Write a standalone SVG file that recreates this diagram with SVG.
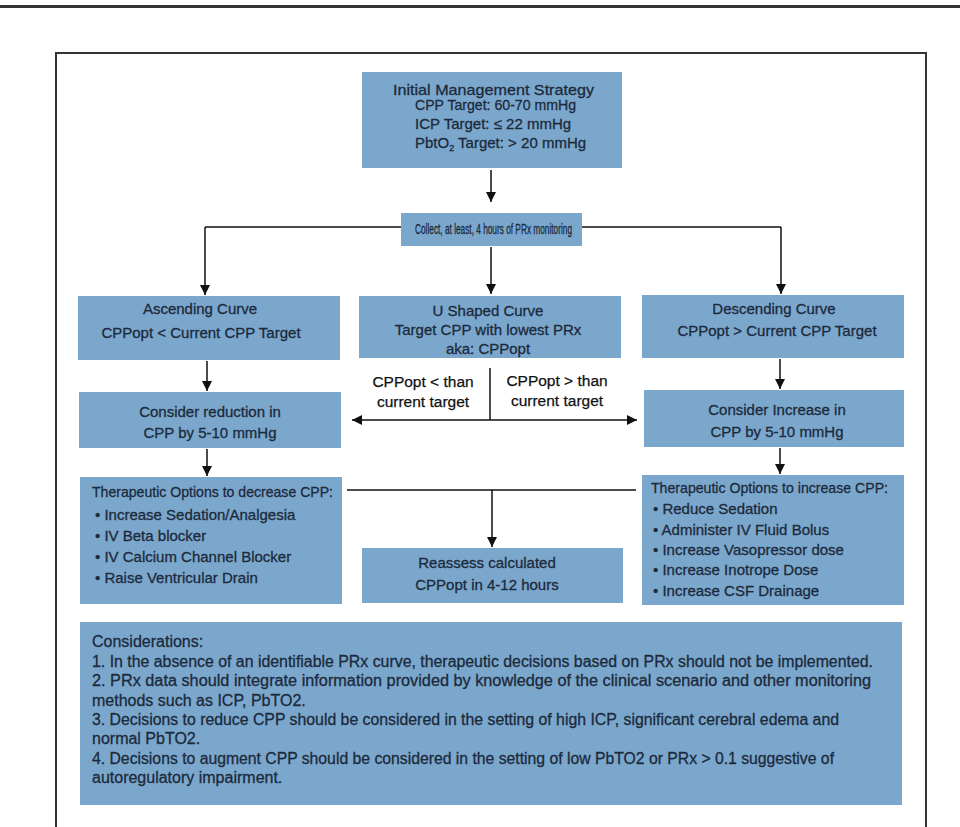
<svg xmlns="http://www.w3.org/2000/svg" width="960" height="827" viewBox="0 0 960 827">
<style>
.box{fill:#7ba7cd;}
.t{font-family:"Liberation Sans",Arial,sans-serif;fill:#1c2a3b;stroke:#1c2a3b;stroke-width:0.3;font-size:15px;}
.c{text-anchor:middle;}
.k{font-size:16px;}
.lbl{font-family:"Liberation Sans",Arial,sans-serif;fill:#111;stroke:#111;stroke-width:0.25;font-size:15.5px;text-anchor:middle;}
.ln{stroke:#111;stroke-width:1.5;fill:none;}
.ar{marker-end:url(#ah);}
</style>
<defs>
<marker id="ah" markerUnits="userSpaceOnUse" markerWidth="10" markerHeight="10" refX="10" refY="5" orient="auto-start-reverse" viewBox="0 0 10 10">
<path d="M0,0 L10,5 L0,10 z" fill="#111"/>
</marker>
</defs>
<rect width="960" height="827" fill="#fff"/>
<rect x="0" y="5" width="960" height="3" fill="#333"/>
<path d="M56,827 V53 H926 V827" fill="none" stroke="#333" stroke-width="2"/>

<g id="connectors">
<path class="ln ar" d="M491,170 V202"/>
<path class="ln" d="M205,227 H401 M582,227 H781"/>
<path class="ln ar" d="M205,227 V295"/>
<path class="ln ar" d="M491,247 V294"/>
<path class="ln ar" d="M781,227 V294"/>
<path class="ln ar" d="M207,361 V391"/>
<path class="ln ar" d="M780,359 V389"/>
<path class="ln" d="M490,368 V420"/>
<path class="ln" d="M352,420 H637" marker-start="url(#ah)" marker-end="url(#ah)"/>
<path class="ln ar" d="M207,449 V476"/>
<path class="ln ar" d="M780,448 V474"/>
<path class="ln" d="M347,490 H636"/>
<path class="ln ar" d="M492,490 V547"/>
</g>

<g id="initial">
<rect class="box" x="362" y="72" width="260" height="96"/>
<text class="t" x="393" y="94.5" font-size="16.5" textLength="201" lengthAdjust="spacingAndGlyphs">Initial Management Strategy</text>
<text class="t" x="415" y="110" font-size="14.5" textLength="161" lengthAdjust="spacingAndGlyphs">CPP Target: 60-70 mmHg</text>
<text class="t" x="415" y="129" font-size="14.5">ICP Target: ≤ 22 mmHg</text>
<text class="t" x="415" y="148" font-size="14.5">PbtO<tspan font-size="9" dy="3">2</tspan><tspan dy="-3"> Target: &gt; 20 mmHg</tspan></text>
</g>

<g id="collect">
<rect class="box" x="401" y="213" width="181" height="33"/>
<text class="t" x="415" y="234" font-size="15" textLength="157" lengthAdjust="spacingAndGlyphs">Collect, at least, 4 hours of PRx monitoring</text>
</g>

<g id="ascending">
<rect class="box" x="78" y="296" width="262" height="64"/>
<text class="t c" x="200" y="313.5" font-size="15.5">Ascending Curve</text>
<text class="t c" x="201" y="337.5" font-size="14.5">CPPopt &lt; Current CPP Target</text>
</g>

<g id="ushaped">
<rect class="box" x="359" y="296" width="262" height="62"/>
<text class="t c" x="488" y="315.5" font-size="15.5">U Shaped Curve</text>
<text class="t c" x="488" y="334.5" font-size="15.5">Target CPP with lowest PRx</text>
<text class="t c" x="488" y="353.5" font-size="14">aka: CPPopt</text>
</g>

<g id="descending">
<rect class="box" x="642" y="295" width="262" height="63"/>
<text class="t c" x="774" y="313.5" font-size="15.5">Descending Curve</text>
<text class="t c" x="777" y="335.5" font-size="14.5">CPPopt &gt; Current CPP Target</text>
</g>

<g id="labels">
<text class="lbl" x="423" y="387">CPPopt &lt; than</text>
<text class="lbl" x="423" y="407">current target</text>
<text class="lbl" x="557" y="386">CPPopt &gt; than</text>
<text class="lbl" x="557" y="406">current target</text>
</g>

<g id="reduce">
<rect class="box" x="79" y="392" width="262" height="56"/>
<text class="t c" x="210" y="417">Consider reduction in</text>
<text class="t c" x="210" y="438" font-size="14.5">CPP by 5-10 mmHg</text>
</g>

<g id="increase">
<rect class="box" x="644" y="390" width="260" height="57"/>
<text class="t c" x="777" y="415">Consider Increase in</text>
<text class="t c" x="777" y="437" font-size="14.5">CPP by 5-10 mmHg</text>
</g>

<g id="decrease-options">
<rect class="box" x="80" y="477" width="262" height="127"/>
<text class="t" x="92" y="497" font-size="14.5" textLength="241" lengthAdjust="spacingAndGlyphs">Therapeutic Options to decrease CPP:</text>
<text class="t" x="95" y="520" font-size="15.5">• Increase Sedation/Analgesia</text>
<text class="t" x="95" y="541" font-size="15.5">• IV Beta blocker</text>
<text class="t" x="95" y="562" font-size="15.5">• IV Calcium Channel Blocker</text>
<text class="t" x="95" y="583" font-size="15.5">• Raise Ventricular Drain</text>
</g>

<g id="reassess">
<rect class="box" x="362" y="548" width="261" height="55"/>
<text class="t c" x="487" y="568">Reassess calculated</text>
<text class="t c" x="487" y="590">CPPopt in 4-12 hours</text>
</g>

<g id="increase-options">
<rect class="box" x="642" y="475" width="262" height="130"/>
<text class="t" x="651" y="493" font-size="14.5" textLength="237" lengthAdjust="spacingAndGlyphs">Therapeutic Options to increase CPP:</text>
<text class="t" x="653" y="514">• Reduce Sedation</text>
<text class="t" x="653" y="535">• Administer IV Fluid Bolus</text>
<text class="t" x="653" y="555">• Increase Vasopressor dose</text>
<text class="t" x="653" y="575">• Increase Inotrope Dose</text>
<text class="t" x="653" y="596">• Increase CSF Drainage</text>
</g>

<g id="considerations">
<rect class="box" x="80" y="622" width="822" height="183"/>
<text class="t k" x="92" y="647">Considerations:</text>
<text class="t k" x="92" y="667" textLength="781" lengthAdjust="spacingAndGlyphs">1. In the absence of an identifiable PRx curve, therapeutic decisions based on PRx should not be implemented.</text>
<text class="t k" x="92" y="686" textLength="779" lengthAdjust="spacingAndGlyphs">2. PRx data should integrate information provided by knowledge of the clinical scenario and other monitoring</text>
<text class="t k" x="92" y="706">methods such as ICP, PbTO2.</text>
<text class="t k" x="92" y="725" textLength="747" lengthAdjust="spacingAndGlyphs">3. Decisions to reduce CPP should be considered in the setting of high ICP, significant cerebral edema and</text>
<text class="t k" x="92" y="744">normal PbTO2.</text>
<text class="t k" x="92" y="764" textLength="742" lengthAdjust="spacingAndGlyphs">4. Decisions to augment CPP should be considered in the setting of low PbTO2 or PRx &gt; 0.1 suggestive of</text>
<text class="t k" x="92" y="783">autoregulatory impairment.</text>
</g>
</svg>
